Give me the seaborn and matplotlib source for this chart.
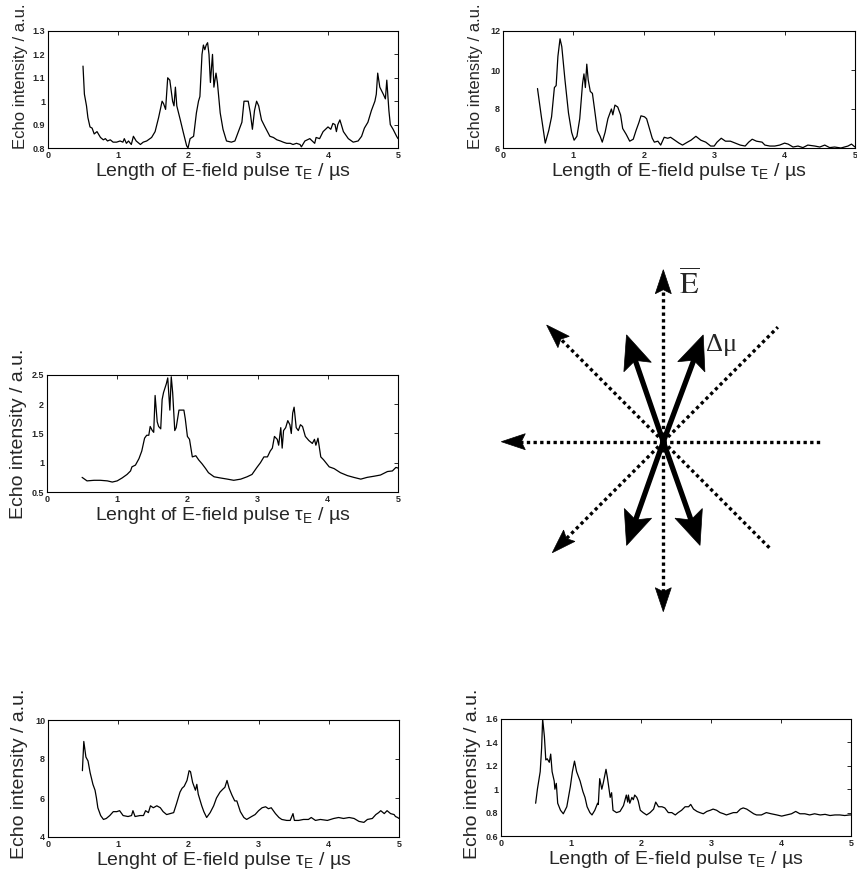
import numpy as np
import pandas as pd
import matplotlib
matplotlib.use("Agg")
import matplotlib.pyplot as plt
from matplotlib.patches import Polygon
import seaborn as sns

# ──────────────────────────────────────────
# DATA
# ──────────────────────────────────────────
p1_x = [0.50, 0.52, 0.55, 0.57, 0.60, 0.63, 0.66, 0.70, 0.75, 0.79,
        0.82, 0.85, 0.89, 0.93, 0.98, 1.03, 1.07, 1.09, 1.12, 1.15,
        1.19, 1.22, 1.26, 1.32, 1.36, 1.41, 1.48, 1.53, 1.58, 1.63,
        1.65, 1.68, 1.71, 1.74, 1.78, 1.80, 1.82, 1.84, 1.89, 1.93,
        1.98, 2.00, 2.03, 2.08, 2.12, 2.15, 2.17, 2.20, 2.22, 2.24,
        2.26, 2.28, 2.30, 2.32, 2.35, 2.37, 2.40, 2.42, 2.46, 2.50,
        2.55, 2.62, 2.67, 2.72, 2.77, 2.80, 2.83, 2.86, 2.89, 2.92,
        2.95, 2.98, 3.01, 3.05, 3.10, 3.17, 3.22, 3.27, 3.32, 3.36,
        3.41, 3.46, 3.50, 3.55, 3.60, 3.62, 3.67, 3.74, 3.81, 3.83,
        3.88, 3.93, 4.00, 4.04, 4.07, 4.10, 4.12, 4.14, 4.17, 4.22,
        4.29, 4.36, 4.43, 4.48, 4.52, 4.57, 4.62, 4.67, 4.69, 4.71,
        4.74, 4.79, 4.82, 4.84, 4.87, 4.89, 4.93, 4.98, 5.00]
p1_y = [1.15, 1.03, 0.98, 0.93, 0.89, 0.885, 0.86, 0.87, 0.845, 0.835,
        0.84, 0.83, 0.835, 0.825, 0.825, 0.83, 0.825, 0.84, 0.82, 0.83,
        0.815, 0.85, 0.83, 0.815, 0.825, 0.83, 0.845, 0.87, 0.93, 1.00,
        0.99, 0.965, 1.10, 1.09, 1.00, 0.98, 1.06, 0.98, 0.92, 0.87,
        0.81, 0.80, 0.84, 0.85, 0.95, 1.00, 1.02, 1.20, 1.24, 1.22,
        1.24, 1.25, 1.20, 1.08, 1.20, 1.06, 1.12, 1.08, 0.95, 0.88,
        0.83, 0.825, 0.83, 0.87, 0.91, 1.00, 1.00, 1.00, 0.95, 0.88,
        0.96, 1.00, 0.98, 0.92, 0.89, 0.85, 0.845, 0.835, 0.83, 0.825,
        0.82, 0.82, 0.815, 0.82, 0.815, 0.805, 0.83, 0.84, 0.82, 0.845,
        0.84, 0.87, 0.89, 0.88, 0.905, 0.90, 0.87, 0.90, 0.92, 0.87,
        0.84, 0.825, 0.83, 0.85, 0.885, 0.91, 0.96, 1.00, 1.03, 1.12,
        1.06, 1.03, 1.01, 1.09, 0.96, 0.90, 0.88, 0.85, 0.84]

p2_x = [0.49, 0.545, 0.60, 0.65, 0.69, 0.73, 0.755, 0.78, 0.81, 0.835,
        0.88, 0.93, 0.975, 1.01, 1.05, 1.09, 1.13, 1.15, 1.17, 1.19,
        1.21, 1.24, 1.27, 1.30, 1.34, 1.38, 1.41, 1.45, 1.49, 1.54,
        1.56, 1.59, 1.63, 1.67, 1.70, 1.75, 1.80, 1.85, 1.89, 1.93,
        1.96, 2.01, 2.04, 2.08, 2.12, 2.15, 2.20, 2.24, 2.29, 2.34,
        2.38, 2.46, 2.50, 2.55, 2.62, 2.67, 2.74, 2.81, 2.88, 2.95,
        3.00, 3.04, 3.10, 3.16, 3.23, 3.30, 3.37, 3.44, 3.49, 3.54,
        3.60, 3.68, 3.72, 3.79, 3.86, 3.93, 4.00, 4.05, 4.12, 4.19,
        4.26, 4.33, 4.43, 4.50, 4.57, 4.64, 4.71, 4.80, 4.90, 4.95,
        5.00]
p2_y = [9.05, 7.6, 6.25, 6.9, 7.6, 9.1, 9.2, 10.7, 11.6, 11.2,
        9.5, 7.8, 6.8, 6.4, 6.6, 7.5, 9.3, 9.8, 9.1, 10.3,
        9.5, 8.9, 8.8, 8.0, 6.9, 6.6, 6.3, 6.8, 7.5, 8.0,
        7.7, 8.2, 8.1, 7.7, 7.0, 6.7, 6.35, 6.45, 6.9, 7.3,
        7.65, 7.6, 7.5, 7.0, 6.5, 6.3, 6.35, 6.15, 6.55, 6.5,
        6.55, 6.35, 6.25, 6.15, 6.3, 6.4, 6.6, 6.4, 6.3, 6.1,
        6.1, 6.3, 6.5, 6.35, 6.35, 6.25, 6.15, 6.1, 6.3, 6.45,
        6.35, 6.3, 6.15, 6.1, 6.1, 6.15, 6.25, 6.2, 6.05, 6.1,
        6.02, 6.15, 6.1, 6.05, 6.15, 6.02, 6.05, 6.0, 6.1, 6.2,
        6.05]

p3_x = [0.50, 0.57, 0.67, 0.76, 0.86, 0.93, 1.00, 1.07, 1.14, 1.19,
        1.21, 1.26, 1.31, 1.35, 1.39, 1.42, 1.45, 1.47, 1.50, 1.52,
        1.54, 1.57, 1.59, 1.62, 1.64, 1.66, 1.70, 1.72, 1.75, 1.77,
        1.79, 1.82, 1.84, 1.88, 1.92, 1.95, 1.97, 2.00, 2.03, 2.07,
        2.12, 2.16, 2.21, 2.26, 2.30, 2.38, 2.47, 2.57, 2.66, 2.76,
        2.85, 2.92, 2.99, 3.04, 3.09, 3.14, 3.18, 3.21, 3.24, 3.28,
        3.30, 3.33, 3.35, 3.37, 3.40, 3.43, 3.46, 3.48, 3.50, 3.52,
        3.55, 3.58, 3.61, 3.64, 3.68, 3.73, 3.78, 3.81, 3.83, 3.86,
        3.90, 3.94, 4.02, 4.09, 4.18, 4.28, 4.37, 4.47, 4.56, 4.66,
        4.75, 4.85, 4.92, 4.97, 5.00]
p3_y = [0.75, 0.69, 0.70, 0.70, 0.69, 0.67, 0.69, 0.74, 0.80, 0.86,
        0.93, 0.96, 1.07, 1.20, 1.42, 1.47, 1.47, 1.62, 1.55, 1.52,
        2.15, 1.70, 1.62, 1.58, 2.08, 2.20, 2.35, 2.45, 1.90, 2.47,
        2.20, 1.55, 1.60, 1.90, 1.90, 1.90, 1.75, 1.45, 1.40, 1.10,
        1.12, 1.05, 0.98, 0.90, 0.83, 0.76, 0.74, 0.72, 0.70, 0.72,
        0.76, 0.80, 0.92, 1.00, 1.10, 1.10, 1.20, 1.25, 1.45, 1.40,
        1.30, 1.60, 1.25, 1.55, 1.60, 1.72, 1.65, 1.50, 1.85, 1.95,
        1.60, 1.55, 1.65, 1.62, 1.45, 1.38, 1.33, 1.40, 1.30, 1.42,
        1.10, 1.05, 0.93, 0.90, 0.83, 0.78, 0.75, 0.72, 0.75, 0.77,
        0.79, 0.85, 0.86, 0.92, 0.91]

p5_x = [0.49, 0.51, 0.54, 0.57, 0.60, 0.62, 0.64, 0.67, 0.69, 0.71,
        0.75, 0.79, 0.83, 0.88, 0.93, 0.98, 1.02, 1.07, 1.14, 1.19,
        1.21, 1.24, 1.31, 1.36, 1.39, 1.43, 1.46, 1.50, 1.55, 1.60,
        1.64, 1.69, 1.74, 1.79, 1.83, 1.88, 1.91, 1.94, 1.98, 2.01,
        2.03, 2.06, 2.10, 2.12, 2.14, 2.19, 2.22, 2.26, 2.31, 2.36,
        2.40, 2.45, 2.49, 2.52, 2.55, 2.58, 2.62, 2.66, 2.69, 2.74,
        2.79, 2.83, 2.90, 2.95, 3.00, 3.05, 3.10, 3.14, 3.18, 3.24,
        3.29, 3.33, 3.40, 3.45, 3.49, 3.51, 3.57, 3.64, 3.71, 3.75,
        3.81, 3.88, 3.98, 4.07, 4.14, 4.21, 4.29, 4.36, 4.43, 4.50,
        4.55, 4.62, 4.67, 4.71, 4.74, 4.79, 4.83, 4.88, 4.93, 4.95,
        4.98, 5.00]
p5_y = [7.4, 8.9, 8.1, 7.9, 7.3, 7.0, 6.7, 6.4, 6.0, 5.5,
        5.1, 4.9, 4.95, 5.1, 5.3, 5.3, 5.35, 5.1, 5.05, 5.1,
        5.35, 5.05, 5.1, 5.1, 5.35, 5.25, 5.6, 5.5, 5.6, 5.5,
        5.3, 5.15, 5.2, 5.25, 5.7, 6.3, 6.5, 6.6, 6.9, 7.4,
        7.35, 6.8, 6.4, 6.7, 6.2, 5.6, 5.3, 5.0, 5.25, 5.6,
        6.0, 6.3, 6.45, 6.55, 6.9, 6.5, 6.15, 5.85, 5.85, 5.3,
        5.0, 4.9, 5.05, 5.15, 5.35, 5.5, 5.55, 5.45, 5.5, 5.2,
        5.0, 4.9, 4.85, 4.85, 5.2, 4.85, 4.85, 4.9, 4.9, 5.0,
        4.85, 4.9, 4.85, 4.95, 5.0, 4.95, 5.0, 4.95, 4.8, 4.75,
        4.9, 4.95, 5.15, 5.25, 5.35, 5.2, 5.35, 5.2, 5.15, 5.05,
        5.0, 4.95]

p6_x = [0.495, 0.52, 0.56, 0.58, 0.595, 0.62, 0.64, 0.66, 0.69, 0.71,
        0.73, 0.76, 0.77, 0.79, 0.81, 0.85, 0.89, 0.94, 0.99, 1.02,
        1.05, 1.08, 1.13, 1.17, 1.20, 1.23, 1.27, 1.30, 1.34, 1.38,
        1.39, 1.41, 1.44, 1.46, 1.50, 1.52, 1.56, 1.58, 1.60, 1.65,
        1.70, 1.75, 1.79, 1.81, 1.82, 1.84, 1.87, 1.89, 1.91, 1.94,
        1.96, 1.99, 2.03, 2.08, 2.13, 2.18, 2.21, 2.25, 2.30, 2.34,
        2.39, 2.44, 2.49, 2.53, 2.58, 2.63, 2.68, 2.71, 2.75, 2.80,
        2.84, 2.89, 2.94, 2.99, 3.03, 3.08, 3.13, 3.18, 3.22, 3.27,
        3.32, 3.37, 3.42, 3.46, 3.51, 3.56, 3.61, 3.65, 3.72, 3.79,
        3.86, 3.94, 4.01, 4.08, 4.15, 4.21, 4.27, 4.34, 4.41, 4.48,
        4.56, 4.63, 4.70, 4.77, 4.84, 4.91, 4.98, 5.00]
p6_y = [0.88, 1.00, 1.15, 1.35, 1.60, 1.45, 1.25, 1.26, 1.23, 1.30,
        1.15, 1.07, 1.00, 1.05, 0.88, 0.82, 0.79, 0.85, 1.02, 1.15,
        1.24, 1.15, 1.07, 0.98, 0.93, 0.85, 0.80, 0.78, 0.82, 0.88,
        0.87, 1.09, 1.00, 1.05, 1.17, 1.10, 0.93, 0.97, 0.82, 0.80,
        0.81, 0.86, 0.95, 0.89, 0.95, 0.88, 0.93, 0.91, 0.95, 0.93,
        0.90, 0.82, 0.80, 0.78, 0.80, 0.83, 0.89, 0.85, 0.85, 0.84,
        0.80, 0.80, 0.78, 0.80, 0.82, 0.85, 0.85, 0.87, 0.83, 0.81,
        0.80, 0.79, 0.81, 0.82, 0.83, 0.82, 0.80, 0.79, 0.78, 0.79,
        0.80, 0.80, 0.83, 0.84, 0.83, 0.81, 0.79, 0.78, 0.78, 0.80,
        0.79, 0.78, 0.77, 0.78, 0.79, 0.81, 0.79, 0.79, 0.78, 0.79,
        0.78, 0.785, 0.775, 0.78, 0.78, 0.775, 0.78, 0.78]

x_ticks = [0, 1, 2, 3, 4, 5]
p1_yticks = [0.8, 0.9, 1.0, 1.1, 1.2, 1.3]
p2_yticks = [6, 8, 10, 12]
p3_yticks = [0.5, 1.0, 1.5, 2.0, 2.5]
p5_yticks = [4, 6, 8, 10]
p6_yticks = [0.6, 0.8, 1.0, 1.2, 1.4, 1.6]

ylabel = "Echo intensity / a.u."
xlabel_length = "Length of E-field pulse τ$\\mathregular{_E}$ / µs"
xlabel_lenght = "Lenght of E-field pulse τ$\\mathregular{_E}$ / µs"

# diagram: rays from the common centre (angle in deg, length in px, arrow head?)
dot_angles = [90, 270, 180, 0, 135, 315, 45, 225]
dot_lengths = [172, 170, 162, 157, 165, 153, 162, 157]
dot_heads = [True, True, True, False, True, False, False, True]
dipole_angles = [109, 289.5, 69.5, 250.5]
dipole_lengths = [113, 110, 114, 110]

# ──────────────────────────────────────────
# STYLE
# ──────────────────────────────────────────
sns.set_style("white")
plt.rcParams["font.family"] = ["Liberation Sans", "DejaVu Sans"]
plt.rcParams["mathtext.fontset"] = "stix"

W, H = 857, 881
fig = plt.figure(figsize=(W / 100, H / 100), dpi=100)


def rect(l, t, r, b):
    return [l / W, 1 - b / H, (r - l) / W, (b - t) / H]


def panel(box, xs, ys, yticks, xlabel, label_y, label_size=14):
    ax = fig.add_axes(rect(*box))
    df = pd.DataFrame({"t": xs, "I": ys})
    sns.lineplot(data=df, x="t", y="I", ax=ax, color="black", linewidth=0.9,
                 sort=False, estimator=None)
    ax.set_xlim(0, 5)
    ax.set_ylim(yticks[0], yticks[-1])
    ax.set_xticks(x_ticks)
    ax.set_xticklabels([f"{t:g}" for t in x_ticks], fontsize=6.5, fontweight="bold")
    ax.set_yticks(yticks)
    ax.set_yticklabels([f"{t:g}" for t in yticks], fontsize=6.5, fontweight="bold")
    ax.tick_params(direction="in", top=True, right=True, length=3, width=0.7, pad=2)
    for s in ax.spines.values():
        s.set_linewidth(0.8)
        s.set_color("black")
    ax.set_xlabel(xlabel, fontsize=14, labelpad=1)
    ax.set_ylabel(ylabel, fontsize=label_size)
    ax.yaxis.set_label_coords(-0.058, label_y)
    return ax


panel((48, 31, 398, 148), p1_x, p1_y, p1_yticks, xlabel_length, 0.615, 12)
panel((503, 31, 855, 148), p2_x, p2_y, p2_yticks, xlabel_length, 0.615, 12)
panel((47, 375, 398, 492), p3_x, p3_y, p3_yticks, xlabel_lenght, 0.5)
panel((48, 720, 399, 837), p5_x, p5_y, p5_yticks, xlabel_lenght, 0.54)
panel((501, 719, 851, 836), p6_x, p6_y, p6_yticks, xlabel_length, 0.53)

# ──────────────────────────────────────────
# DIAGRAM (1 data unit = 1 pixel, centre at 0,0)
# ──────────────────────────────────────────
cx, cy = 663.3, 441.7
l, t, r, b = 490, 250, 857, 630
axd = fig.add_axes(rect(l, t, r, b))
axd.set_xlim(l - cx, r - cx)
axd.set_ylim(-(b - cy), cy - t)
axd.axis("off")


def head(tip, ang, length, width, notch=0.0):
    d = np.array([np.cos(np.radians(ang)), np.sin(np.radians(ang))])
    p = np.array([-d[1], d[0]])
    tip = np.asarray(tip)
    base = tip - length * d
    pts = [tip, base + width / 2 * p, base + notch * d, base - width / 2 * p]
    return Polygon(pts, closed=True, facecolor="black", edgecolor="black", lw=0.5)


for ang, ln, hd in zip(dot_angles, dot_lengths, dot_heads):
    d = np.array([np.cos(np.radians(ang)), np.sin(np.radians(ang))])
    end = d * (ln - 12 if hd else ln)
    axd.plot([0, end[0]], [0, end[1]], color="black", lw=2.4,
             linestyle=(0, (1, 1)), dash_capstyle="butt")
    if hd:
        axd.add_patch(head(d * ln, ang, 24, 16, notch=4))

for ang, ln in zip(dipole_angles, dipole_lengths):
    d = np.array([np.cos(np.radians(ang)), np.sin(np.radians(ang))])
    end = d * (ln - 20)
    axd.plot([0, end[0]], [0, end[1]], color="black", lw=3.8, solid_capstyle="round")
    axd.add_patch(head(d * ln, ang, 34, 29, notch=7))

axd.text(16, 147, r"$\overline{\mathrm{E}}$", fontsize=22, ha="left", va="baseline")
axd.text(43, 91, "Δμ", fontsize=19, ha="left", va="baseline",
         family=["Liberation Serif", "DejaVu Serif"])

fig.savefig("out.png", dpi=100)
